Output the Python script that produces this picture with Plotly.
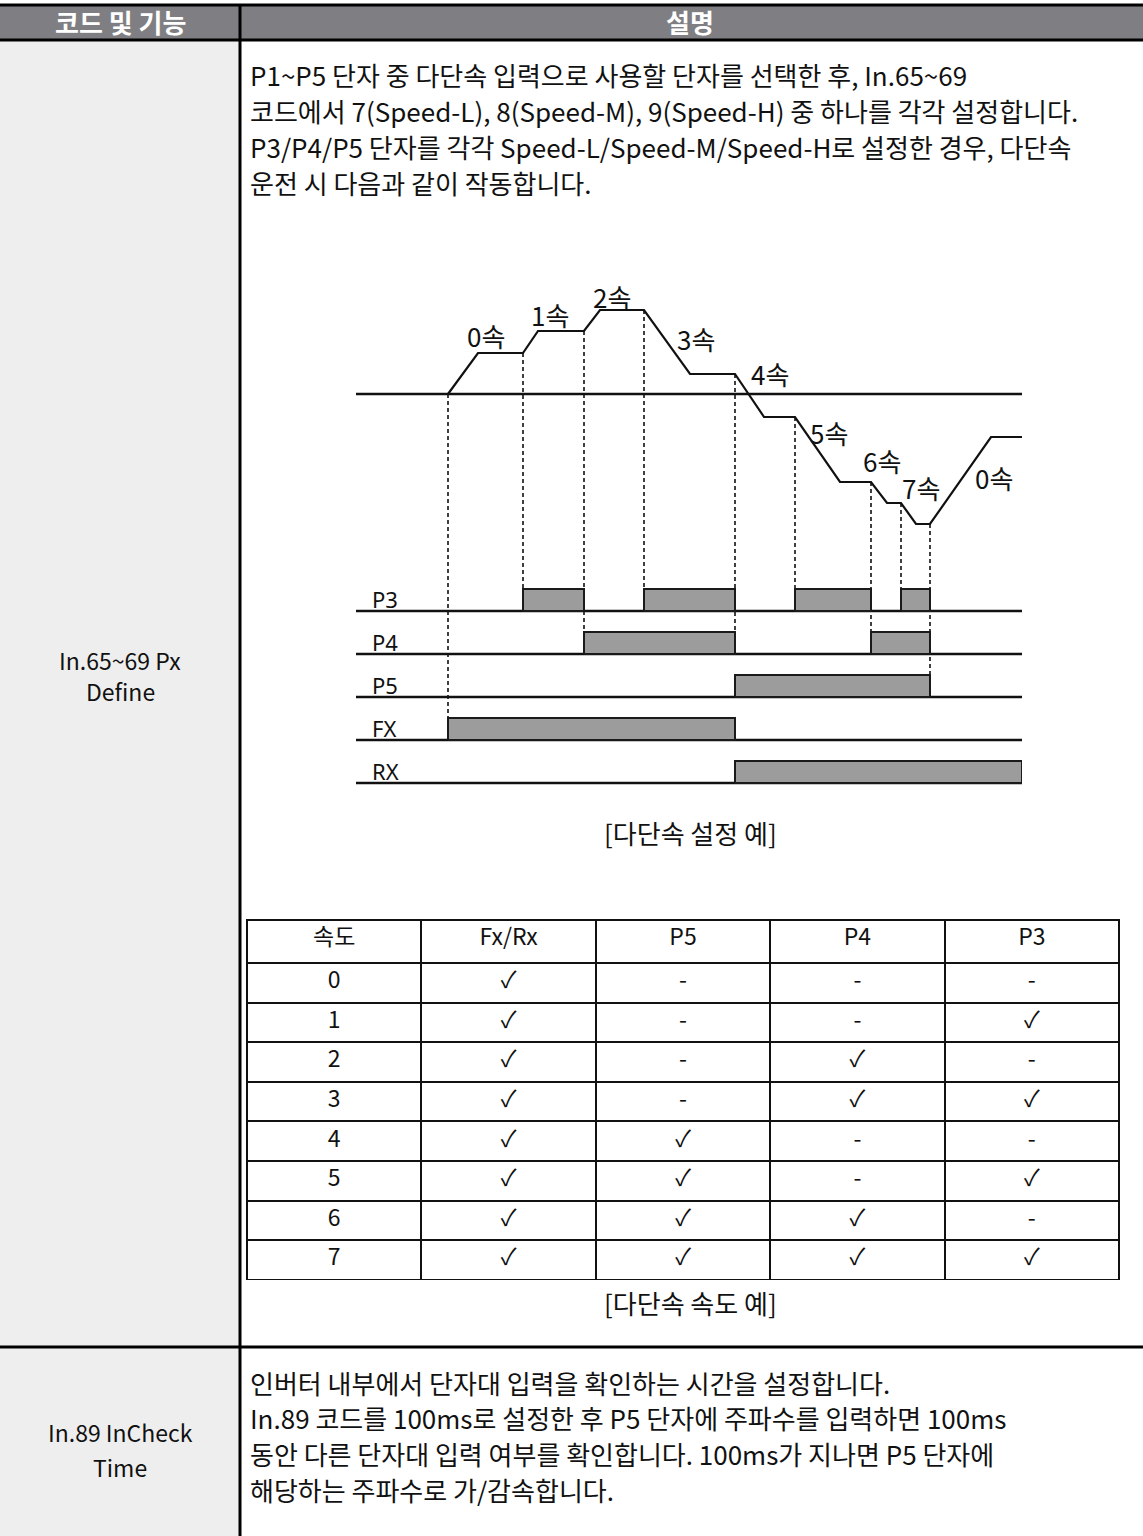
import plotly.graph_objects as go
import numpy as np

W, H = 1143, 1536

# ---------------- text content ----------------
header_left = "코드 및 기능"
header_right = "설명"
intro_lines = [
    "P1~P5 단자 중 다단속 입력으로 사용할 단자를 선택한 후, In.65~69",
    "코드에서 7(Speed-L), 8(Speed-M), 9(Speed-H) 중 하나를 각각 설정합니다.",
    "P3/P4/P5 단자를 각각 Speed-L/Speed-M/Speed-H로 설정한 경우, 다단속",
    "운전 시 다음과 같이 작동합니다.",
]
row1_label = ["In.65~69 Px", "Define"]
diagram_caption = "[다단속 설정 예]"
table_caption = "[다단속 속도 예]"
row2_label = ["In.89 InCheck", "Time"]
row2_lines = [
    "인버터 내부에서 단자대 입력을 확인하는 시간을 설정합니다.",
    "In.89 코드를 100ms로 설정한 후 P5 단자에 주파수를 입력하면 100ms",
    "동안 다른 단자대 입력 여부를 확인합니다. 100ms가 지나면 P5 단자에",
    "해당하는 주파수로 가/감속합니다.",
]

# ---------------- timing diagram data ----------------
step_times = [92, 167, 228, 288, 379, 439, 515, 545, 574]      # speed command changes
ramp_end_times = [122, 182, 244, 334, 408, 484, 531, 560, 635]  # target reached
speed_levels = [41, 63, 84, 20, -23, -88, -109, -130, -43]
speed_labels = ["0속", "1속", "2속", "3속", "4속", "5속", "6속", "7속", "0속"]
end_time = 666

signal_names = ["P3", "P4", "P5", "FX", "RX"]
p3_on = [(167, 228), (288, 379), (439, 515), (545, 574)]
p4_on = [(228, 379), (515, 574)]
p5_on = [(379, 574)]
fx_on = [(92, 379)]
rx_on = [(379, 666)]
dash_targets = ["FX", "P3", "P4", "P3", "P4", "P3", "P4", "P3", "P5"]

# ---------------- table data ----------------
table_header = ["속도", "Fx/Rx", "P5", "P4", "P3"]
speed_col = ["0", "1", "2", "3", "4", "5", "6", "7"]
fxrx_col = ["✓", "✓", "✓", "✓", "✓", "✓", "✓", "✓"]
p5_col = ["-", "-", "-", "-", "✓", "✓", "✓", "✓"]
p4_col = ["-", "-", "✓", "✓", "-", "-", "✓", "✓"]
p3_col = ["-", "✓", "-", "✓", "-", "✓", "-", "✓"]

# ---------------- helpers ----------------
def px(x):
    return x / W

def py(y):
    return 1 - y / H

BODY_FONT = "Noto Sans CJK KR, sans-serif"
DIAG_FONT = "Noto Sans CJK KR, Noto Sans, sans-serif"

fig = go.Figure()

# ---------------- speed profile ----------------
prof_t = [step_times[0]]
prof_v = [0]
for i in range(len(step_times)):
    prof_t.append(ramp_end_times[i])
    prof_v.append(speed_levels[i])
    nxt = step_times[i + 1] if i + 1 < len(step_times) else end_time
    prof_t.append(nxt)
    prof_v.append(speed_levels[i])

fig.add_trace(go.Scatter(x=[0, end_time], y=[0, 0], mode="lines",
                         line=dict(color="#111", width=2.5), hoverinfo="skip"))

# signal rows geometry (layout)
ROW0 = -217
ROW_GAP = 43
PULSE_H = 22
row_base = {n: ROW0 - ROW_GAP * i for i, n in enumerate(signal_names)}
pulses = {"P3": p3_on, "P4": p4_on, "P5": p5_on, "FX": fx_on, "RX": rx_on}

for t, tgt in zip(step_times, dash_targets):
    v_top = float(np.interp(t, prof_t, prof_v))
    v_bot = row_base[tgt] + PULSE_H
    fig.add_trace(go.Scatter(x=[t, t], y=[v_top, v_bot], mode="lines",
                             line=dict(color="#111", width=1.6, dash="4px,3px"),
                             hoverinfo="skip"))

fig.add_trace(go.Scatter(x=prof_t, y=prof_v, mode="lines",
                         line=dict(color="#111", width=2.2), hoverinfo="skip"))

for n in signal_names:
    b = row_base[n]
    fig.add_trace(go.Scatter(x=[0, end_time], y=[b, b], mode="lines",
                             line=dict(color="#111", width=2.5), hoverinfo="skip"))
    xs, ys = [], []
    for (a, c) in pulses[n]:
        xs += [a, a, c, c, a, None]
        ys += [b, b + PULSE_H, b + PULSE_H, b, b, None]
    fig.add_trace(go.Scatter(x=xs, y=ys, mode="lines", fill="toself",
                             fillcolor="#9c9c9c", line=dict(color="#1a1a1a", width=2),
                             hoverinfo="skip"))

annotations = []
label_off = [(8, 18), (19, 28), (20, 24), (29, 4), (20, 22), (11, 17), (3, 32), (12, 26), (33, 3)]
for i, lab in enumerate(speed_labels):
    t0 = step_times[i]
    v0 = speed_levels[i - 1] if i > 0 else 0
    tm = (t0 + ramp_end_times[i]) / 2
    vm = (v0 + speed_levels[i]) / 2
    if i == 0:
        tm, vm = ramp_end_times[0], speed_levels[0]
    annotations.append(dict(x=tm + label_off[i][0], y=vm + label_off[i][1], xref="x", yref="y",
                            text=lab, showarrow=False, xanchor="center", yanchor="middle",
                            font=dict(family=DIAG_FONT, size=26, color="#111")))
for n in signal_names:
    annotations.append(dict(x=14, y=row_base[n] + 12, xref="x", yref="y", text=n,
                            showarrow=False, xanchor="left", yanchor="middle",
                            font=dict(family="Noto Sans, sans-serif", size=22, color="#111")))

# ---------------- table ----------------
fig.add_trace(go.Table(
    domain=dict(x=[px(247), px(1119)], y=[py(1280), py(920)]),
    columnwidth=[1, 1, 1, 1, 1],
    header=dict(values=table_header, height=43, align="center",
                fill_color="white", line=dict(color="#111", width=2),
                font=dict(family=BODY_FONT, size=23, color="#111")),
    cells=dict(values=[speed_col, fxrx_col, p5_col, p4_col, p3_col], height=39.6,
               align="center", fill_color="white", line=dict(color="#111", width=2),
               font=dict(family=BODY_FONT, size=23, color="#111")),
))

# ---------------- page structure ----------------
HDR_TOP, HDR_BOT, SEP_Y, DIV_X = 5, 40, 1347, 240
shapes = [
    dict(type="rect", xref="paper", yref="paper", x0=0, x1=px(DIV_X), y0=py(H), y1=py(HDR_BOT),
         fillcolor="#eeeeee", line=dict(width=0), layer="below"),
    dict(type="rect", xref="paper", yref="paper", x0=0, x1=1, y0=py(HDR_BOT), y1=py(HDR_TOP),
         fillcolor="#7f7f83", line=dict(width=0), layer="below"),
    dict(type="line", xref="paper", yref="paper", x0=0, x1=1, y0=py(HDR_TOP), y1=py(HDR_TOP),
         line=dict(color="#000", width=3)),
    dict(type="line", xref="paper", yref="paper", x0=0, x1=1, y0=py(HDR_BOT), y1=py(HDR_BOT),
         line=dict(color="#000", width=3)),
    dict(type="line", xref="paper", yref="paper", x0=px(DIV_X), x1=px(DIV_X), y0=py(HDR_TOP), y1=py(H),
         line=dict(color="#000", width=3)),
    dict(type="line", xref="paper", yref="paper", x0=0, x1=1, y0=py(SEP_Y), y1=py(SEP_Y),
         line=dict(color="#000", width=3)),
]

def txt(x, y, s, size=26, anchor="left", color="#111", bold=False, family=BODY_FONT):
    if bold:
        s = "<b>" + s + "</b>"
    return dict(x=px(x), y=py(y), xref="paper", yref="paper", text=s, showarrow=False,
                xanchor=anchor, yanchor="middle", font=dict(family=family, size=size, color=color))

annotations.append(txt(120, 22, header_left, size=26, anchor="center", color="white", bold=True))
annotations.append(txt(690, 22, header_right, size=26, anchor="center", color="white", bold=True))
for i, s in enumerate(intro_lines):
    annotations.append(txt(248, 74 + i * 36, s))
annotations.append(txt(120, 660, row1_label[0], size=23, anchor="center"))
annotations.append(txt(120, 691, row1_label[1], size=23, anchor="center"))
annotations.append(txt(690, 832, diagram_caption, anchor="center"))
annotations.append(txt(690, 1302, table_caption, anchor="center"))
annotations.append(txt(120, 1432, row2_label[0], size=23, anchor="center"))
annotations.append(txt(120, 1467, row2_label[1], size=23, anchor="center"))
for i, s in enumerate(row2_lines):
    annotations.append(txt(248, 1382 + i * 35.7, s))

fig.update_layout(
    width=W, height=H, margin=dict(l=0, r=0, t=0, b=0),
    paper_bgcolor="white", plot_bgcolor="rgba(0,0,0,0)", showlegend=False,
    xaxis=dict(domain=[px(356), px(1022)], range=[0, end_time], visible=False, fixedrange=True),
    yaxis=dict(domain=[py(794), py(284)], range=[-400, 110], visible=False, fixedrange=True),
    shapes=shapes, annotations=annotations,
)

fig.write_html("out.html", post_script="document.body.style.margin='0';",
               config={"displayModeBar": False})
